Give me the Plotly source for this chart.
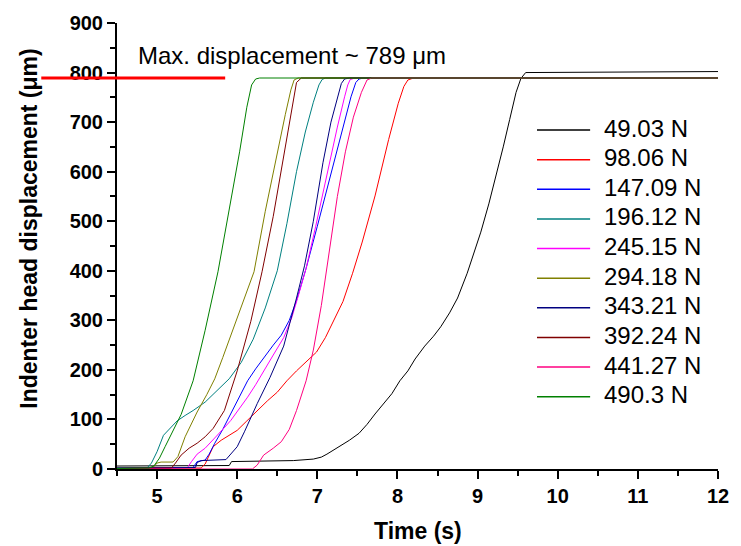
import plotly.graph_objects as go

# ---- data ----
labels = ["49.03 N", "98.06 N", "147.09 N", "196.12 N", "245.15 N",
          "294.18 N", "343.21 N", "392.24 N", "441.27 N", "490.3 N"]
colors = ["#000000", "#FF0000", "#0000FF", "#008080", "#FF00FF",
          "#808000", "#000080", "#800000", "#FF0080", "#008000"]

t_4903 = [4.5, 5.0, 5.5, 5.9, 5.93, 6.3, 6.7, 6.95, 7.05, 7.12, 7.2, 7.3, 7.4, 7.52, 7.62, 7.72, 7.82,
          7.93, 8.03, 8.13, 8.22, 8.34, 8.45, 8.54, 8.65, 8.75, 8.87, 8.95, 9.04, 9.14, 9.24, 9.32,
          9.4, 9.48, 9.54, 9.6, 12.0]
d_4903 = [6, 6, 6, 7, 15, 16, 17, 20, 24, 30, 38, 48, 58, 72, 90, 111, 130,
          152, 178, 198, 222, 248, 268, 287, 315, 345, 395, 435, 478, 535, 598, 650,
          705, 760, 788, 800, 802]

t_9806 = [4.5, 5.55, 5.6, 5.65, 5.7, 5.8, 5.9, 6.0, 6.12, 6.25, 6.38, 6.5, 6.62, 6.74, 6.87, 6.99,
          7.1, 7.2, 7.32, 7.44, 7.56, 7.72, 7.89, 8.01, 8.08, 8.13, 8.2, 12.0]
d_9806 = [1, 2, 10, 28, 45, 58, 68, 78, 97, 118, 138, 155, 178, 198, 218, 236,
          265, 298, 338, 395, 458, 551, 665, 738, 772, 785, 789, 789]

t_14709 = [4.5, 5.45, 5.5, 5.6, 5.65, 5.72, 5.82, 5.92, 6.02, 6.13, 6.23, 6.33, 6.45, 6.55, 6.65,
           6.74, 6.86, 7.0, 7.12, 7.21, 7.32, 7.42, 7.48, 7.52, 7.58, 12.0]
d_14709 = [2, 3, 15, 18, 30, 52, 80, 112, 145, 178, 202, 225, 250, 270, 300,
           340, 405, 490, 565, 618, 690, 751, 780, 787, 789, 789]

t_19612 = [4.5, 4.88, 4.93, 5.0, 5.08, 5.15, 5.25, 5.35, 5.45, 5.6, 5.75, 5.9, 6.05, 6.2, 6.35,
           6.5, 6.62, 6.74, 6.85, 6.95, 7.02, 7.06, 7.1, 12.0]
d_19612 = [2, 3, 12, 35, 68, 80, 97, 108, 118, 135, 158, 182, 215, 262, 325,
           400, 495, 600, 680, 740, 775, 786, 789, 789]

t_24515 = [4.5, 5.38, 5.43, 5.5, 5.6, 5.72, 5.82, 5.92, 6.02, 6.13, 6.23, 6.33, 6.45, 6.58, 6.68,
           6.76, 6.86, 6.98, 7.08, 7.15, 7.25, 7.34, 7.38, 7.41, 7.47, 12.0]
d_24515 = [1, 3, 15, 30, 42, 62, 80, 98, 120, 145, 170, 198, 230, 265, 305,
           348, 405, 490, 565, 618, 690, 751, 775, 786, 789, 789]

t_29418 = [4.5, 4.95, 5.0, 5.05, 5.2, 5.26, 5.35, 5.5, 5.62, 5.72, 5.82, 5.92, 6.05, 6.21, 6.35,
           6.5, 6.6, 6.67, 6.71, 6.76, 12.0]
d_29418 = [2, 3, 12, 14, 14, 25, 65, 115, 150, 182, 225, 270, 325, 398, 520,
           640, 715, 765, 785, 789, 789]

t_34321 = [4.5, 5.48, 5.5, 5.55, 5.86, 5.92, 6.0, 6.09, 6.25, 6.41, 6.58, 6.74, 6.84, 6.95, 7.07,
           7.17, 7.25, 7.3, 7.34, 7.4, 12.0]
d_34321 = [2, 3, 13, 17, 19, 30, 45, 75, 132, 185, 248, 345, 410, 500, 618,
           700, 751, 778, 787, 789, 789]

t_39224 = [4.5, 5.18, 5.23, 5.3, 5.4, 5.5, 5.6, 5.7, 5.84, 6.0, 6.17, 6.31, 6.45, 6.58, 6.68,
           6.74, 6.8, 12.0]
d_39224 = [1, 2, 12, 28, 42, 52, 65, 82, 118, 198, 298, 398, 510, 630, 730,
           780, 789, 789]

t_44127 = [4.5, 6.19, 6.25, 6.33, 6.45, 6.55, 6.65, 6.74, 6.86, 6.95, 7.05, 7.15, 7.25, 7.35,
           7.45, 7.55, 7.62, 7.68, 12.0]
d_44127 = [0, 0, 8, 28, 42, 55, 80, 118, 178, 240, 330, 440, 550, 640,
           710, 760, 785, 789, 789]

t_4903_green = [4.5, 4.9, 4.96, 5.03, 5.1, 5.2, 5.3, 5.45, 5.6, 5.76, 5.9, 6.03, 6.12, 6.18, 6.23,
                6.28, 12.0]
d_4903_green = [1, 2, 6, 22, 45, 78, 110, 178, 280, 398, 520, 640, 730, 775, 787,
                789, 789]

times = [t_4903, t_9806, t_14709, t_19612, t_24515, t_29418, t_34321, t_39224, t_44127, t_4903_green]
disps = [d_4903, d_9806, d_14709, d_19612, d_24515, d_29418, d_34321, d_39224, d_44127, d_4903_green]

max_disp = 789
x_ticks = [5, 6, 7, 8, 9, 10, 11, 12]
y_ticks = [0, 100, 200, 300, 400, 500, 600, 700, 800, 900]

FONT = "Liberation Sans, Arial, sans-serif"

fig = go.Figure()
for lab, col, tx, dy in zip(labels, colors, times, disps):
    fig.add_trace(go.Scatter(x=tx, y=dy, mode="lines", name=lab, showlegend=False,
                             line=dict(color=col, width=1)))

axis_common = dict(showline=True, linecolor="black", linewidth=2, ticks="outside",
                   ticklen=8, tickwidth=2, tickcolor="black", showgrid=False, zeroline=False,
                   tickfont=dict(family=FONT, size=20, color="black", weight="bold"),
                   mirror=False)

fig.update_layout(
    width=741, height=546,
    margin=dict(l=117, r=13, t=19, b=77),
    paper_bgcolor="white", plot_bgcolor="white",
    font=dict(family=FONT, color="black"),
    xaxis=dict(range=[4.5, 12], tickvals=x_ticks,
               minor=dict(dtick=0.5, tick0=4.5, ticks="outside", ticklen=5, tickwidth=2, tickcolor="black"),
               **axis_common),
    yaxis=dict(range=[0, 900], tickvals=y_ticks,
               minor=dict(dtick=50, tick0=0, ticks="outside", ticklen=5, tickwidth=2, tickcolor="black"),
               **axis_common),
    showlegend=False,
)

# legend box (drawn with shapes + annotations in paper coordinates)
PW, PH = 611.0, 450.0   # plot area size in px
leg_line_x0, leg_line_x1, leg_text_x = 544, 598, 610
leg_top, leg_step = 127, 29.9
for i, (lab, col) in enumerate(zip(labels, colors)):
    yc = leg_top + i * leg_step
    yp = (469 - yc) / PH
    fig.add_shape(type="line", xref="paper", yref="paper",
                  x0=(leg_line_x0 - 117) / PW, x1=(leg_line_x1 - 117) / PW, y0=yp, y1=yp,
                  line=dict(color=col, width=1.5))
    fig.add_annotation(text=lab, xref="paper", yref="paper",
                       x=(leg_text_x - 117) / PW, y=(469 - (yc - 2)) / PH,
                       xanchor="left", yanchor="middle", showarrow=False,
                       font=dict(family=FONT, size=24, color="black"))

fig.add_shape(type="line", xref="paper", yref="y", x0=-0.126, x1=0.18, y0=max_disp, y1=max_disp,
              line=dict(color="#FF0000", width=3))

fig.add_annotation(text="Max. displacement ~ " + str(max_disp) + " \u03bcm", xref="paper", yref="y",
                   x=0.032, y=834, xanchor="left", yanchor="middle", showarrow=False,
                   font=dict(family=FONT, size=24, color="black"))

fig.add_annotation(text="<b>Indenter head displacement (\u03bcm)</b>", xref="paper", yref="paper",
                   x=-0.147, y=0.538, xanchor="center", yanchor="middle", textangle=-90,
                   showarrow=False, font=dict(family=FONT, size=23, color="black"))

fig.add_annotation(text="<b>Time (s)</b>", xref="paper", yref="paper",
                   x=0.5, y=-0.138, xanchor="center", yanchor="middle",
                   showarrow=False, font=dict(family=FONT, size=23, color="black"))

fig.write_html("out.html")
